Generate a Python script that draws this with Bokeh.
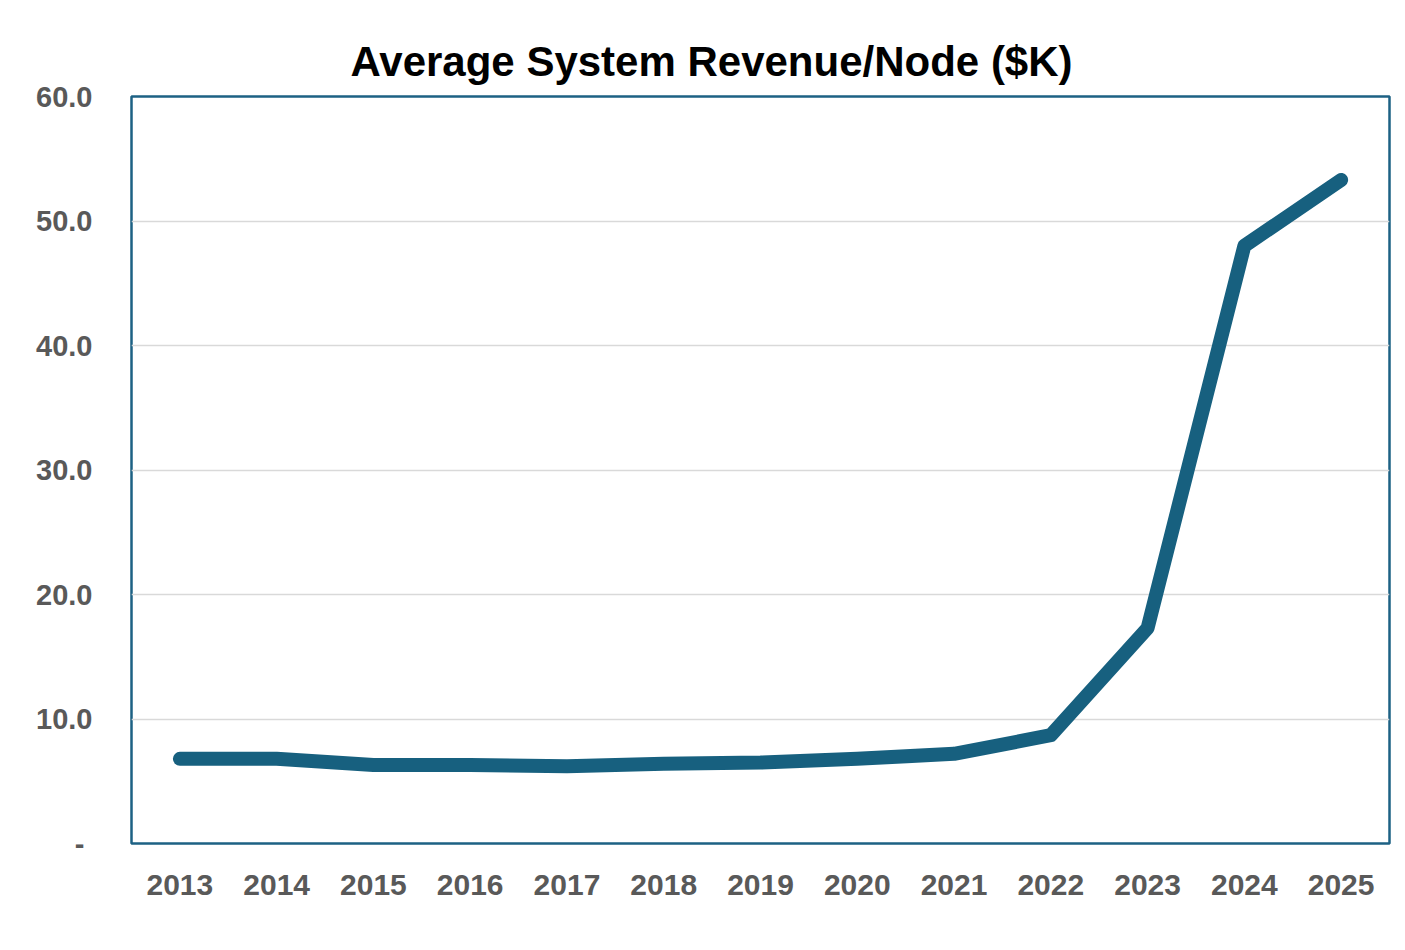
from bokeh.plotting import figure
from bokeh.models import FactorRange, Range1d, CustomJSTickFormatter, FixedTicker
from bokeh.embed import file_html
from bokeh.resources import INLINE

years = ["2013", "2014", "2015", "2016", "2017", "2018", "2019",
         "2020", "2021", "2022", "2023", "2024", "2025"]
revenue_per_node = [6.8, 6.8, 6.3, 6.3, 6.2, 6.4, 6.5, 6.8, 7.2, 8.7, 17.3, 48.0, 53.3]
y_ticks = [0, 10, 20, 30, 40, 50, 60]
title_text = "Average System Revenue/Node ($K)"

p = figure(width=1397, height=942, output_backend="svg", toolbar_location=None,
           x_range=FactorRange(*years, range_padding=0), y_range=Range1d(0, 60),
           min_border_left=131, min_border_right=8, min_border_top=96, min_border_bottom=99,
           title=title_text)

p.background_fill_color = "white"
p.border_fill_color = "white"
p.outline_line_color = "#1d6184"
p.outline_line_width = 2.5

p.title.align = "left"
p.title.offset = 219
p.title.standoff = 24
p.title.text_font = "Liberation Sans"
p.title.text_font_style = "bold"
p.title.text_font_size = "42px"
p.title.text_color = "black"

p.line(x=years, y=revenue_per_node, line_color="#17607f", line_width=14,
       line_cap="round", line_join="round")

p.xgrid.grid_line_color = None
p.ygrid.grid_line_color = "#d9d9d9"
p.ygrid.grid_line_width = 1.5

p.yaxis.ticker = FixedTicker(ticks=y_ticks)
p.yaxis.formatter = CustomJSTickFormatter(code="return tick == 0 ? '-\u00a0' : tick.toFixed(1);")
for ax in (p.xaxis[0], p.yaxis[0]):
    ax.axis_line_color = None
    ax.major_tick_line_color = None
    ax.minor_tick_line_color = None
    ax.major_label_text_color = "#595959"
    ax.major_label_text_font = "Liberation Sans"
    ax.major_label_text_font_style = "bold"
p.yaxis.major_label_text_font_size = "29px"
p.yaxis.major_label_standoff = 33
p.xaxis.major_label_text_font_size = "30px"
p.xaxis.major_label_standoff = 25

open("out.html", "w").write(file_html(p, INLINE))
